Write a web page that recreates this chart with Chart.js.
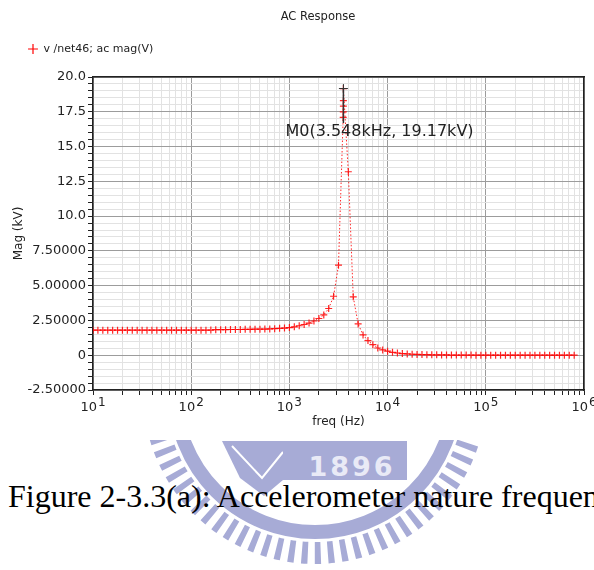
<!DOCTYPE html>
<html>
<head>
<meta charset="utf-8">
<title>AC Response</title>
<script src="https://cdn.jsdelivr.net/npm/chart.js@4/dist/chart.umd.min.js"></script>
<style>
  html, body { margin: 0; padding: 0; background: #fff; overflow: hidden; }
  #wrap { position: relative; width: 594px; height: 570px; overflow: hidden; }
  #logo { position: absolute; left: 0; top: 0; }
  #acChart { position: absolute; left: 0; top: 0; }
  #caption {
    position: absolute; left: 8px; top: 480px;
    font-family: "Liberation Serif", "Times New Roman", serif;
    font-size: 32px; line-height: 1; white-space: nowrap; color: #000;
  }
</style>
</head>
<body>
<div id="wrap">
  <!-- watermark behind the caption -->
  <svg id="logo" width="594" height="570" viewBox="0 0 594 570">
    <defs>
      <clipPath id="below"><rect x="0" y="440" width="594" height="130"/></clipPath>
    </defs>
    <g clip-path="url(#below)" fill="none" stroke="#a7abd6">
      <circle cx="315" cy="392" r="140" stroke-width="14"/>
      <circle cx="315" cy="392" r="161" stroke-width="22" stroke-dasharray="6 7"/>
    </g>
    <polygon points="222,441 283,441 283,480 264,496 240,478" fill="#a7abd6"/>
    <polyline points="232,446 262,478 283,452" fill="none" stroke="#fff" stroke-width="2"/>
    <rect x="283" y="441" width="124" height="39" fill="#a7abd6"/>
    <text x="352" y="476" text-anchor="middle" fill="#e9eaf6" font-family="DejaVu Sans" font-weight="bold" font-size="27" letter-spacing="3">1896</text>
  </svg>
  <canvas id="acChart" width="594" height="432"></canvas>
  <div id="caption">Figure 2-3.3(a): Accelerometer nature frequency</div>
</div>

<script>
// data: frequency sweep (Hz) and magnitude (kV)
const freqHz = [
  10, 11.22, 12.59, 14.13, 15.85, 17.78, 19.95, 22.39, 25.12, 28.18,
  31.62, 35.48, 39.81, 44.67, 50.12, 56.23, 63.10, 70.79, 79.43, 89.13,
  100, 112.2, 125.9, 141.3, 158.5, 177.8, 199.5, 223.9, 251.2, 281.8,
  316.2, 354.8, 398.1, 446.7, 501.2, 562.3, 631.0, 707.9, 794.3, 891.3,
  1000, 1122, 1259, 1413, 1585, 1778, 1995, 2239, 2512, 2818,
  3162, 3530, 3538, 3543, 3546, 3548, 3981, 4467, 5012, 5623,
  6310, 7079, 7943, 8913,
  10000, 11220, 12590, 14130, 15850, 17780, 19950, 22390, 25120, 28180,
  31620, 35480, 39810, 44670, 50120, 56230, 63100, 70790, 79430, 89130,
  100000, 112200, 125900, 141300, 158500, 177800, 199500, 223900, 251200, 281800,
  316200, 354800, 398100, 446700, 501200, 562300, 631000, 707900, 794300
];
const magKV = [
  1.80, 1.80, 1.80, 1.80, 1.80, 1.80, 1.80, 1.80, 1.80, 1.80,
  1.80, 1.80, 1.80, 1.80, 1.80, 1.80, 1.80, 1.80, 1.80, 1.80,
  1.80, 1.80, 1.80, 1.80, 1.81, 1.84, 1.84, 1.84, 1.85, 1.85,
  1.85, 1.86, 1.86, 1.87, 1.87, 1.88, 1.89, 1.91, 1.93, 1.95,
  1.99, 2.04, 2.12, 2.21, 2.31, 2.46, 2.64, 2.90, 3.36, 4.24,
  6.47, 17.1, 17.5, 17.9, 18.3, 19.17, 13.19, 4.20, 2.25, 1.46,
  1.05, 0.76, 0.52, 0.38,
  0.29, 0.21, 0.16, 0.12, 0.09, 0.07, 0.06, 0.05, 0.04, 0.03,
  0.03, 0.02, 0.02, 0.01, 0.01, 0.01, 0.01, 0.01, 0.00, 0.00,
  0.00, 0.00, 0.00, 0.00, 0.00, 0.00, 0.00, 0.00, 0.00, 0.00,
  0.00, 0.00, 0.00, 0.00, 0.00, 0.00, 0.00, 0.00, 0.00
];

// marker M0 (cross at the peak, with its drop line)
const markerFreq = [3548, 3548];
const markerMag = [19.17, 16.7];
const markerText = 'M0(3.548kHz, 19.17kV)';

// axis ticks and labels
const xDecades = [10, 100, 1000, 10000, 100000, 1000000];
const xExponents = ['1', '2', '3', '4', '5', '6'];
const xMinorMult = [2, 3, 4, 5, 6, 7, 8, 9];
const yTickText = {
  '20': '20.0', '17.5': '17.5', '15': '15.0', '12.5': '12.5', '10': '10.0',
  '7.5': '7.50000', '5': '5.00000', '2.5': '2.50000', '0': '0', '-2.5': '-2.50000'
};

const chartTitle = 'AC Response';
const legendText = 'v /net46; ac mag(V)';
const xTitle = 'freq (Hz)';
const yTitle = 'Mag (kV)';

const FONT = '"DejaVu Sans", sans-serif';
const MAJOR_GRID = '#9c9c9c';
const MINOR_GRID = '#e2e2e2';
const AXIS_COLOR = '#222';
const TRACE = 'rgba(255, 0, 0, 0.85)';

const xTickValues = [];
xDecades.forEach((d, i) => {
  xTickValues.push(d);
  if (i < xDecades.length - 1) xMinorMult.forEach(m => xTickValues.push(d * m));
});

function isDecade(v) {
  const l = Math.log10(v);
  return Math.abs(l - Math.round(l)) < 1e-9;
}

// title, decade labels with exponent, marker label
const extras = {
  id: 'extras',
  afterDraw(chart) {
    const { ctx, chartArea } = chart;
    const xs = chart.scales.x;
    const ys = chart.scales.y;
    ctx.save();
    ctx.fillStyle = AXIS_COLOR;

    ctx.font = '11.5px ' + FONT;
    ctx.textAlign = 'center';
    ctx.textBaseline = 'middle';
    ctx.fillText(chartTitle, 318, 17);

    ctx.textAlign = 'left';
    ctx.textBaseline = 'alphabetic';
    xDecades.forEach((d, i) => {
      const px = xs.getPixelForValue(d);
      ctx.font = '13px ' + FONT;
      const w1 = ctx.measureText('10').width;
      ctx.font = '12px ' + FONT;
      const w2 = ctx.measureText(xExponents[i]).width;
      const left = px - (w1 + w2 + 1) / 2;
      ctx.font = '13px ' + FONT;
      ctx.fillText('10', left, chartArea.bottom + 21);
      ctx.font = '12px ' + FONT;
      ctx.fillText(xExponents[i], left + w1 + 1, chartArea.bottom + 16);
    });

    const mx = xs.getPixelForValue(markerFreq[0]);
    const my = ys.getPixelForValue(markerMag[0]);
    ctx.font = '16px ' + FONT;
    ctx.textBaseline = 'middle';
    ctx.fillText(markerText, mx - 58, my + 43);
    ctx.restore();
  }
};

new Chart(document.getElementById('acChart'), {
  type: 'line',
  data: {
    datasets: [
      {
        label: 'M0',
        data: markerFreq.map((f, i) => ({ x: f, y: markerMag[i] })),
        borderColor: '#333',
        borderWidth: 1.5,
        pointStyle: 'cross',
        pointRadius: [4.5, 0],
        pointBorderColor: '#333',
        pointBorderWidth: 1,
        order: 0
      },
      {
        label: legendText,
        data: freqHz.map((f, i) => ({ x: f, y: magKV[i] })),
        borderColor: TRACE,
        borderWidth: 1,
        borderDash: [1.5, 2],
        pointStyle: 'cross',
        pointRadius: 3.5,
        pointBorderColor: TRACE,
        pointBorderWidth: 1.2,
        order: 1
      }
    ]
  },
  options: {
    responsive: false,
    animation: false,
    events: [],
    layout: { padding: { left: 6, right: 0, top: 21.5, bottom: 0 } },
    plugins: {
      title: { display: false },
      tooltip: { enabled: false },
      legend: {
        display: true,
        position: 'top',
        align: 'start',
        labels: {
          usePointStyle: true,
          boxWidth: 10,
          boxHeight: 7,
          padding: 22,
          color: AXIS_COLOR,
          font: { family: FONT, size: 11 },
          generateLabels: () => [{
            text: legendText,
            pointStyle: 'cross',
            strokeStyle: 'red',
            fillStyle: 'red',
            lineWidth: 1.2,
            fontColor: AXIS_COLOR,
            hidden: false,
            datasetIndex: 1
          }]
        }
      }
    },
    scales: {
      x: {
        type: 'logarithmic',
        position: 'bottom',
        min: 10,
        max: 1000000,
        afterBuildTicks: s => { s.ticks = xTickValues.map(v => ({ value: v })); },
        afterFit: s => { s.height = 42; },
        ticks: { autoSkip: false, maxRotation: 0, callback: () => '' },
        grid: {
          color: c => (c.tick && isDecade(c.tick.value) ? MAJOR_GRID : MINOR_GRID),
          tickColor: AXIS_COLOR,
          tickLength: 5,
          lineWidth: 1
        },
        border: { display: true, color: AXIS_COLOR, width: 1.5 },
        title: {
          display: true, text: xTitle, color: AXIS_COLOR,
          font: { family: FONT, size: 12 },
          padding: { top: 0, bottom: 3 }
        }
      },
      xTop: {
        type: 'linear',
        position: 'top',
        min: 0, max: 1,
        afterFit: s => { s.height = 12.5; },
        ticks: { display: false },
        grid: { display: false },
        border: { display: true, color: AXIS_COLOR, width: 1.5 }
      },
      y: {
        type: 'linear',
        position: 'left',
        min: -2.5,
        max: 20,
        afterFit: s => { s.width = 87; },
        ticks: {
          stepSize: 0.5,
          autoSkip: false,
          padding: 2,
          color: AXIS_COLOR,
          font: { family: FONT, size: 13 },
          callback: v => yTickText[String(v)] || ''
        },
        grid: {
          color: c => (c.tick && c.tick.value % 2.5 === 0 ? MAJOR_GRID : MINOR_GRID),
          tickColor: AXIS_COLOR,
          tickLength: 5,
          lineWidth: 1
        },
        border: { display: true, color: AXIS_COLOR, width: 1.5 },
        title: {
          display: true, text: yTitle, color: AXIS_COLOR,
          font: { family: FONT, size: 12 },
          padding: { top: 6, bottom: 0 }
        }
      },
      yRight: {
        type: 'linear',
        position: 'right',
        min: 0, max: 1,
        afterFit: s => { s.width = 10; },
        ticks: { display: false },
        grid: { display: false },
        border: { display: true, color: AXIS_COLOR, width: 1.5 }
      }
    }
  },
  plugins: [extras]
});
</script>
</body>
</html>
